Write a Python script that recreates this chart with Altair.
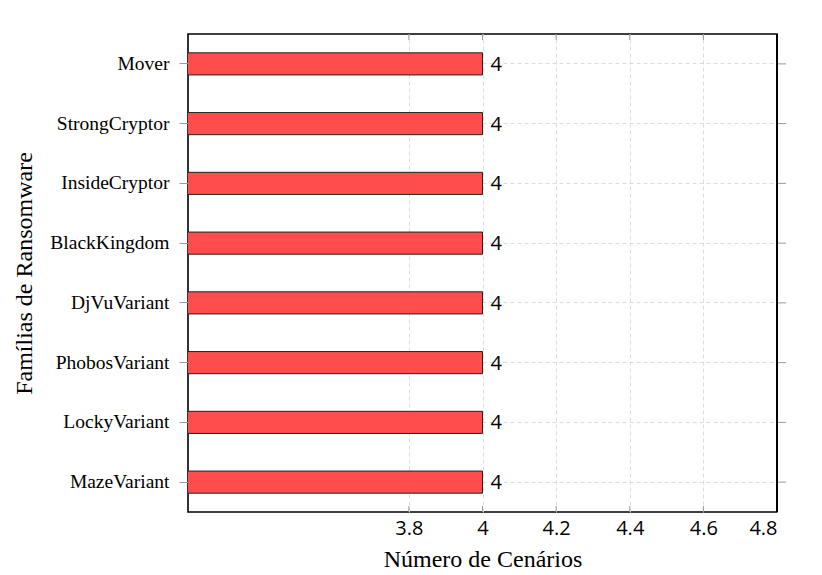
import altair as alt
import pandas as pd

families = ["Mover", "StrongCryptor", "InsideCryptor", "BlackKingdom",
            "DjVuVariant", "PhobosVariant", "LockyVariant", "MazeVariant"]
scenarios = [4, 4, 4, 4, 4, 4, 4, 4]
x_ticks = [3.8, 4.0, 4.2, 4.4, 4.6, 4.8]

df = pd.DataFrame({"family": families, "n": scenarios})
ticks_df = pd.DataFrame({"t": x_ticks})

W, H = 589, 478
xscale = alt.Scale(domain=[3.2, 4.8], zero=False, nice=False)
yscale = alt.Scale(domain=families, paddingInner=0.63, paddingOuter=0.315)

serif = "Liberation Serif"
sans = "Open Sans"

bars = alt.Chart(df).mark_bar(
    color="#ff4d4d", stroke="#222222", strokeWidth=1, clip=True
).encode(
    x=alt.X("n:Q", scale=xscale,
            axis=alt.Axis(values=x_ticks, format=".1~f", title="Número de Cenários",
                          orient="bottom", grid=True, gridDash=[4, 3], gridColor="#dddddd",
                          ticks=False, domain=False, labelFont=sans, labelFontSize=20,
                          labelColor="#000000", labelPadding=6,
                          titleFont=serif, titleFontSize=24, titleFontWeight="normal",
                          titleColor="#000000", titleX=294.5, titleY=47,
                          titleBaseline="middle")),
    y=alt.Y("family:N", scale=yscale, sort=families,
            axis=alt.Axis(title="Famílias de Ransomware", orient="left", grid=True,
                          gridDash=[4, 3], gridColor="#dddddd", tickSize=9,
                          tickColor="#999999", domain=False, labelFont=serif,
                          labelFontSize=19.5, labelColor="#000000", labelPadding=10,
                          titleFont=serif, titleFontSize=24, titleFontWeight="normal",
                          titleColor="#000000", titleX=-164, titleY=239,
                          titleBaseline="middle")),
)

right_ticks = alt.Chart(df).mark_rule(color="#999999", strokeWidth=1).encode(
    y=alt.Y("family:N", scale=yscale, sort=families),
    x=alt.value(W), x2=alt.value(W + 9),
)

right_border = alt.Chart(df).mark_rule(color="#000000", strokeWidth=1.6).encode(
    x=alt.value(W), y=alt.value(0), y2=alt.value(H),
)

labels = alt.Chart(df).mark_text(
    align="left", baseline="middle", dx=8, dy=1, fontSize=20, font=sans, color="#000000"
).encode(
    x=alt.X("n:Q", scale=xscale),
    y=alt.Y("family:N", scale=yscale, sort=families),
    text=alt.Text("n:Q", format="d"),
)

bottom_ticks = alt.Chart(ticks_df).mark_rule(color="#999999", strokeWidth=1).encode(
    x=alt.X("t:Q", scale=xscale),
    y=alt.value(H - 6), y2=alt.value(H),
)
top_ticks = alt.Chart(ticks_df).mark_rule(color="#999999", strokeWidth=1).encode(
    x=alt.X("t:Q", scale=xscale),
    y=alt.value(0), y2=alt.value(6),
)

chart = alt.layer(bars, right_ticks, labels, bottom_ticks, top_ticks, right_border).properties(
    width=W, height=H,
    background="#ffffff",
    autosize=alt.AutoSizeParams(type="none"),
    padding={"left": 180, "top": 26, "right": 30, "bottom": 70},
).configure_view(
    stroke="#000000", strokeWidth=1.6
)

chart.save("out.html", embed_options={"renderer": "svg", "actions": False})
